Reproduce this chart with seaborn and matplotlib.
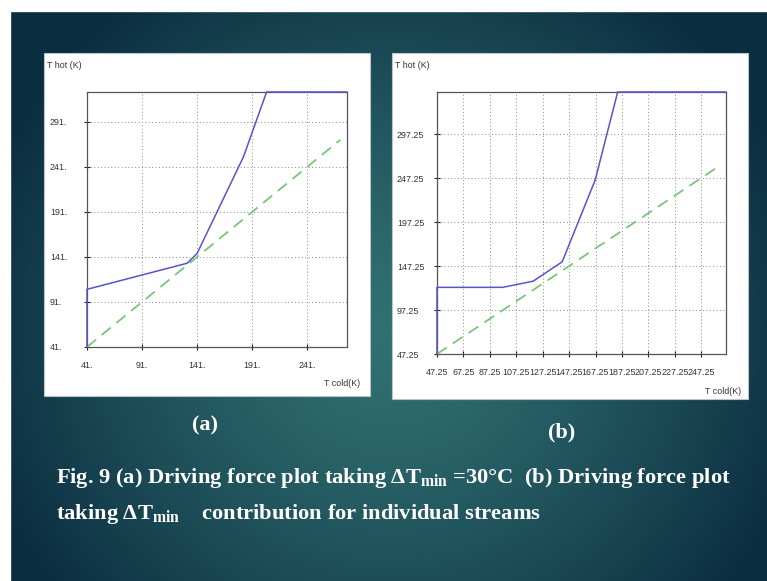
import numpy as np
import pandas as pd
import matplotlib
matplotlib.use("Agg")
import matplotlib.pyplot as plt
import seaborn as sns
from matplotlib.patches import Rectangle
from matplotlib.colors import to_rgb

# painel (a): delta T min = 30
a_hot_x = [41, 41, 132, 141, 183, 204, 277]
a_hot_y = [41, 105, 134, 145, 252, 324, 324]
a_diag = [41, 271]
a_ticks = [41, 91, 141, 191, 241]
a_yticks = [41, 91, 141, 191, 241, 291]
a_lim_x = (41, 277)
a_lim_y = (41, 324)

# painel (b): contribuicao por corrente
b_hot_x = [47.25, 47.25, 97, 120, 142, 167, 184, 266]
b_hot_y = [47.25, 123, 123, 130, 152, 245, 345, 345]
b_diag = [47.25, 261]
b_xticks = [47.25, 67.25, 87.25, 107.25, 127.25, 147.25, 167.25, 187.25, 207.25, 227.25, 247.25]
b_yticks = [47.25, 97.25, 147.25, 197.25, 247.25, 297.25]
b_lim_x = (47.25, 266)
b_lim_y = (47.25, 345)

legenda_1 = r"Fig. 9 (a) Driving force plot taking ΔT$_{\rm min}$ =30°C  (b) Driving force plot"
legenda_2 = r"taking ΔT$_{\rm min}$    contribution for individual streams"

sns.set_theme(style="white")
plt.rcParams["font.family"] = ["Liberation Sans", "DejaVu Sans"]
plt.rcParams["mathtext.fontset"] = "custom"
plt.rcParams["mathtext.rm"] = "Liberation Serif:bold"
plt.rcParams["mathtext.it"] = "Liberation Serif:bold"

W, H = 767, 581
PT = 100 / 72  # pixels por ponto
fig = plt.figure(figsize=(W / 100, H / 100), dpi=100)

# fundo do slide (gradiente)
fundo = fig.add_axes([0, 0, 1, 1])
fundo.set_xlim(0, W)
fundo.set_ylim(H, 0)
fundo.axis("off")
yy, xx = np.mgrid[0:H, 0:W]
d = np.sqrt(((xx - 390) / 430) ** 2 + ((yy - 330) / 420) ** 2)
d = np.clip(d, 0, 1) ** 1.3
c0 = np.array(to_rgb("#317172"))
c1 = np.array(to_rgb("#0b2d40"))
img = c0 * (1 - d[..., None]) + c1 * d[..., None]
fundo.imshow(img, extent=(0, W, H, 0), aspect="auto", zorder=0)
fundo.add_patch(Rectangle((0, 0), W, 11, color="white", zorder=1))
fundo.add_patch(Rectangle((0, 0), 10, H, color="white", zorder=1))

# paineis brancos
fundo.add_patch(Rectangle((44, 53), 326, 343, facecolor="white", edgecolor="#b8c4c8", lw=0.8, zorder=2))
fundo.add_patch(Rectangle((392, 53), 356, 346, facecolor="white", edgecolor="#b8c4c8", lw=0.8, zorder=2))


def painel(pos, hot_x, hot_y, diag, xticks, yticks, xlab, ylab, lim_x, lim_y, label_left):
    ax = fig.add_axes([pos[0] / W, 1 - pos[3] / H, (pos[2] - pos[0]) / W, (pos[3] - pos[1]) / H])
    ax.set_facecolor("white")
    df = pd.DataFrame({"x": hot_x, "y": hot_y})
    sns.lineplot(data=df, x="x", y="y", sort=False, estimator=None, color="#5555cc", lw=1.1, ax=ax, clip_on=False, zorder=4)
    sns.lineplot(x=diag, y=diag, sort=False, estimator=None, color="#77c777", lw=1.3, ax=ax,
                 dashes=False, linestyle=(0, (6.5, 4)), zorder=3)
    ax.set_xlim(*lim_x)
    ax.set_ylim(*lim_y)
    ax.set_xticks(xticks)
    ax.set_yticks(yticks)
    ax.set_xticklabels(xlab, fontsize=6.4, color="#333333")
    ax.set_yticklabels(ylab, fontsize=6.4, color="#333333", ha="left")
    ax.tick_params(axis="both", direction="inout", length=5, width=0.8, color="#222222", bottom=True, left=True)
    ax.tick_params(axis="x", pad=7.5)
    ax.tick_params(axis="y", pad=(pos[0] - label_left) / PT - 2.5)
    ax.grid(True, linestyle=(0, (1, 2.5)), color="#888888", lw=0.7)
    for s in ax.spines.values():
        s.set_color("#555555")
        s.set_linewidth(0.9)
    ax.set_xlabel("")
    ax.set_ylabel("")
    return ax


ax_a = painel((87, 92, 347, 347), a_hot_x, a_hot_y, a_diag, a_ticks, a_yticks,
              [f"{t}." for t in a_ticks], [f"{t}." for t in a_yticks], a_lim_x, a_lim_y, 50)
ax_b = painel((437, 92, 726, 354), b_hot_x, b_hot_y, b_diag, b_xticks, b_yticks,
              [f"{t:.2f}" for t in b_xticks], [f"{t:.2f}" for t in b_yticks], b_lim_x, b_lim_y, 397)

# rotulos dos eixos
fundo.text(47, 66, "T hot (K)", fontsize=6.4, color="#333333", va="center", zorder=5)
fundo.text(395, 66, "T hot (K)", fontsize=6.4, color="#333333", va="center", zorder=5)
fundo.text(360, 384, "T cold(K)", fontsize=6.4, color="#333333", va="center", ha="right", zorder=5)
fundo.text(741, 392, "T cold(K)", fontsize=6.4, color="#333333", va="center", ha="right", zorder=5)

# legendas do slide
serif = ["Liberation Serif", "DejaVu Serif"]
fundo.text(205, 425, "(a)", fontsize=16, color="white", fontweight="bold", family=serif, ha="center", va="center", zorder=5)
fundo.text(562, 432, "(b)", fontsize=16, color="white", fontweight="bold", family=serif, ha="center", va="center", zorder=5)
fundo.text(56, 478, legenda_1, fontsize=16.2, color="white", fontweight="bold", family=serif, va="center", zorder=5)
fundo.text(56, 514, legenda_2, fontsize=16.2, color="white", fontweight="bold", family=serif, va="center", zorder=5)

fig.savefig("out.png", dpi=100)
